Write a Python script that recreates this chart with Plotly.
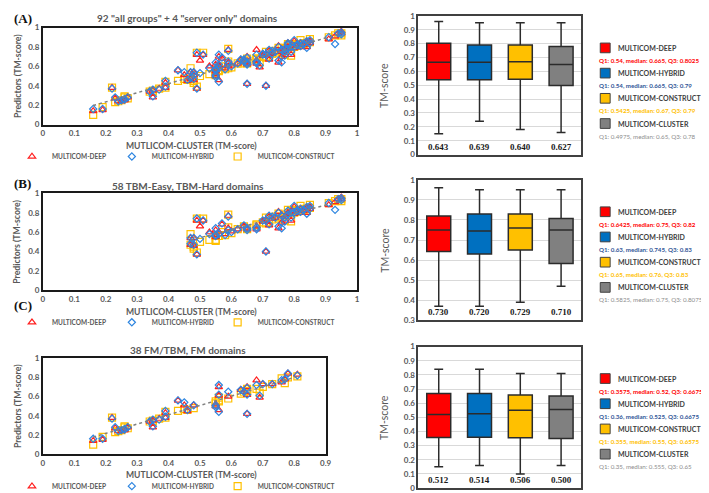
import numpy as np
import plotly.graph_objects as go

# ---------------- data ----------------
series_names = ["MULTICOM-DEEP", "MULTICOM-HYBRID", "MULTICOM-CONSTRUCT"]

# (B) 58 TBM-Easy, TBM-Hard domains : x = MULTICOM-CLUSTER TM-score
B_cluster = [0.47, 0.47, 0.48, 0.48, 0.49, 0.49, 0.50, 0.51, 0.53, 0.55, 0.55, 0.56, 0.57, 0.58,
             0.59, 0.59, 0.60, 0.62, 0.64, 0.65, 0.65, 0.68, 0.68, 0.70, 0.71, 0.71, 0.72, 0.72,
             0.74, 0.75, 0.75, 0.76, 0.77, 0.78, 0.78, 0.79, 0.79, 0.80, 0.80, 0.81, 0.82, 0.82,
             0.83, 0.84, 0.84, 0.85, 0.85, 0.91, 0.93, 0.94, 0.95, 0.95, 0.73, 0.76, 0.77, 0.81,
             0.83, 0.55]
B_deep = [0.54, 0.47, 0.54, 0.46, 0.37, 0.72, 0.66, 0.72, 0.60, 0.62, 0.57, 0.60, 0.68, 0.58,
          0.77, 0.64, 0.61, 0.63, 0.66, 0.63, 0.64, 0.63, 0.66, 0.71, 0.40, 0.73, 0.76, 0.67,
          0.75, 0.81, 0.64, 0.70, 0.72, 0.80, 0.79, 0.72, 0.81, 0.86, 0.79, 0.82, 0.84, 0.80,
          0.83, 0.80, 0.85, 0.86, 0.84, 0.88, 0.91, 0.94, 0.96, 0.94, 0.74, 0.78, 0.76, 0.83,
          0.82, 0.55]
B_hybrid = [0.54, 0.48, 0.54, 0.47, 0.37, 0.74, 0.53, 0.72, 0.58, 0.64, 0.57, 0.58, 0.69, 0.57,
            0.76, 0.62, 0.60, 0.63, 0.67, 0.62, 0.64, 0.63, 0.65, 0.72, 0.40, 0.72, 0.77, 0.68,
            0.75, 0.80, 0.66, 0.64, 0.71, 0.82, 0.78, 0.75, 0.80, 0.87, 0.80, 0.82, 0.84, 0.81,
            0.83, 0.79, 0.86, 0.87, 0.84, 0.90, 0.83, 0.94, 0.93, 0.95, 0.76, 0.77, 0.75, 0.82,
            0.83, 0.56]
B_construct = [0.58, 0.47, 0.43, 0.45, 0.39, 0.74, 0.50, 0.74, 0.52, 0.52, 0.56, 0.56, 0.60, 0.57,
               0.78, 0.65, 0.59, 0.63, 0.66, 0.64, 0.63, 0.68, 0.67, 0.70, 0.69, 0.75, 0.74, 0.70,
               0.76, 0.79, 0.74, 0.75, 0.72, 0.83, 0.80, 0.71, 0.82, 0.83, 0.80, 0.82, 0.87, 0.83,
               0.83, 0.82, 0.84, 0.88, 0.85, 0.90, 0.92, 0.94, 0.92, 0.94, 0.73, 0.76, 0.78, 0.81,
               0.84, 0.51]

# (C) 38 FM/TBM, FM domains
C_cluster = [0.16, 0.19, 0.22, 0.23, 0.24, 0.25, 0.26, 0.27, 0.34, 0.35, 0.35, 0.37, 0.39, 0.39,
             0.43, 0.45, 0.46, 0.48, 0.55, 0.55, 0.56, 0.56, 0.56, 0.59, 0.63, 0.64, 0.65, 0.65,
             0.65, 0.68, 0.69, 0.70, 0.73, 0.76, 0.77, 0.78, 0.81, 0.26]
C_deep = [0.14, 0.15, 0.38, 0.27, 0.24, 0.24, 0.26, 0.28, 0.34, 0.35, 0.28, 0.37, 0.38, 0.43,
          0.56, 0.51, 0.45, 0.51, 0.50, 0.52, 0.70, 0.46, 0.61, 0.60, 0.67, 0.65, 0.70, 0.62,
          0.42, 0.77, 0.59, 0.73, 0.73, 0.75, 0.78, 0.84, 0.83, 0.25]
C_hybrid = [0.16, 0.16, 0.37, 0.28, 0.24, 0.25, 0.26, 0.28, 0.34, 0.36, 0.29, 0.36, 0.39, 0.45,
            0.56, 0.54, 0.46, 0.51, 0.51, 0.49, 0.72, 0.44, 0.62, 0.65, 0.67, 0.65, 0.69, 0.62,
            0.42, 0.72, 0.61, 0.73, 0.73, 0.77, 0.78, 0.84, 0.82, 0.26]
C_construct = [0.10, 0.18, 0.38, 0.23, 0.24, 0.25, 0.29, 0.27, 0.34, 0.34, 0.35, 0.37, 0.38, 0.44,
               0.45, 0.47, 0.46, 0.48, 0.55, 0.53, 0.56, 0.55, 0.59, 0.58, 0.63, 0.65, 0.68, 0.64,
               0.66, 0.68, 0.64, 0.70, 0.73, 0.79, 0.74, 0.80, 0.81, 0.28]

# (A) all 96 domains = (B) + (C)
A_cluster = B_cluster + C_cluster
A_deep = B_deep + C_deep
A_hybrid = B_hybrid + C_hybrid
A_construct = B_construct + C_construct

scatter_titles = ['92 "all groups" + 4 "server only" domains',
                  '58 TBM-Easy, TBM-Hard domains',
                  '38 FM/TBM, FM domains']
panel_letters = ["(A)", "(B)", "(C)"]
x_title = "MUTLICOM-CLUSTER (TM-score)"
y_title = "Predictors (TM-score)"

# box-plot summaries (from the figure)
box_names = ["MULTICOM-DEEP", "MULTICOM-HYBRID", "MULTICOM-CONSTRUCT", "MULTICOM-CLUSTER"]
A_q1 = [0.54, 0.54, 0.5425, 0.4975]
A_med = [0.665, 0.665, 0.67, 0.65]
A_q3 = [0.8025, 0.79, 0.79, 0.78]
A_lo = [0.15, 0.24, 0.18, 0.16]
A_hi = [0.96, 0.95, 0.95, 0.95]
A_mean = [0.643, 0.639, 0.640, 0.627]

B_q1 = [0.6425, 0.63, 0.65, 0.5825]
B_med = [0.75, 0.745, 0.76, 0.75]
B_q3 = [0.82, 0.83, 0.83, 0.8075]
B_lo = [0.37, 0.37, 0.39, 0.47]
B_hi = [0.96, 0.95, 0.95, 0.95]
B_mean = [0.730, 0.720, 0.729, 0.710]

C_q1 = [0.3575, 0.36, 0.355, 0.35]
C_med = [0.52, 0.525, 0.55, 0.555]
C_q3 = [0.6675, 0.6675, 0.6575, 0.65]
C_lo = [0.15, 0.16, 0.10, 0.16]
C_hi = [0.84, 0.84, 0.81, 0.81]
C_mean = [0.512, 0.514, 0.506, 0.500]

# ---------------- style ----------------
W, H = 709, 493
FONT = "Lato"
GRAY = "#595959"
box_fill = ["#FF0000", "#0070C0", "#FFC000", "#808080"]
q_color = ["#FF0000", "#2F5597", "#FFC000", "#8C8C8C"]
sc_color = ["#FF2020", "#2F86E0", "#FFC000"]
sc_symbol = ["triangle-up-open", "diamond-open", "square-open"]
sc_size = [6.5, 5.5, 7]
legend_px = [2, 103, 210]   # left edge of each scatter-legend entry


def fx(px):
    return px / W


def fy(py):
    return 1 - py / H


fig = go.Figure()
annotations = []
shapes = []
legend_layout = {}

scatter_sets = [
    (A_cluster, [A_deep, A_hybrid, A_construct]),
    (B_cluster, [B_deep, B_hybrid, B_construct]),
    (C_cluster, [C_deep, C_hybrid, C_construct]),
]
sc_geom = [  # top, bottom (px), x max, letter y, title y
    dict(top=15, bot=115, xmax=1.0, ly=6, ty=5),
    dict(top=186, bot=286, xmax=1.0, ly=176, ty=178),
    dict(top=356, bot=455, xmax=0.9, ly=302, ty=348),
]

layout_axes = {}
for i, ((xs, ys_list), g) in enumerate(zip(scatter_sets, sc_geom)):
    ax = "" if i == 0 else str(i + 1)
    x_right = 33.3 + g["xmax"] * 317.7
    layout_axes["xaxis" + ax] = dict(
        domain=[fx(33.3), fx(x_right)], range=[0, g["xmax"]], dtick=0.1, anchor="y" + ax,
        showgrid=False, zeroline=False, showline=True, mirror=True, linecolor="#1a1a1a",
        linewidth=2, ticks="", tickfont=dict(family=FONT, size=8, color=GRAY, weight="bold"))
    layout_axes["yaxis" + ax] = dict(
        domain=[fy(g["bot"]), fy(g["top"])], range=[0, 1], dtick=0.2, anchor="x" + ax,
        showgrid=False, zeroline=False, showline=True, mirror=True, linecolor="#1a1a1a",
        linewidth=2, ticks="", tickfont=dict(family=FONT, size=8, color=GRAY, weight="bold"))

    for s in [2, 0, 1]:
        n = i * 3 + s
        lname = "legend" if n == 0 else "legend%d" % (n + 1)
        legend_layout[lname] = dict(
            orientation="h", x=fx(legend_px[s]), y=fy(g["bot"] + 33), xanchor="left",
            yanchor="middle", itemwidth=30, bgcolor="rgba(0,0,0,0)",
            font=dict(family=FONT, size=6.5, color=GRAY, weight="bold"))
        fig.add_trace(go.Scatter(
            x=xs, y=ys_list[s], mode="markers", name=series_names[s], xaxis="x" + ax,
            yaxis="y" + ax, legend=lname,
            marker=dict(symbol=sc_symbol[s], size=sc_size[s], color=sc_color[s],
                        line=dict(color=sc_color[s], width=1.2))))

    # trendline (least squares on all predictor points)
    xx = np.array(xs * 3, dtype=float)
    yy = np.concatenate([np.array(y, dtype=float) for y in ys_list])
    k, b0 = np.polyfit(xx, yy, 1)
    xl = np.array([min(xs), max(xs)])
    fig.add_trace(go.Scatter(x=xl, y=k * xl + b0, mode="lines", xaxis="x" + ax, yaxis="y" + ax,
                             line=dict(color="#7f7f7f", width=1.5, dash="dot"),
                             showlegend=False, hoverinfo="skip"))

    annotations.append(dict(x=fx(2), y=fy(g["ly"]), xref="paper", yref="paper", text="<b>%s</b>" % panel_letters[i],
                            showarrow=False, xanchor="left", yanchor="middle",
                            font=dict(family="Liberation Serif", size=13, color="#111")))
    annotations.append(dict(x=fx(180), y=fy(g["ty"]), xref="paper", yref="paper", text="<b>%s</b>" % scatter_titles[i],
                            showarrow=False, xanchor="center", yanchor="middle",
                            font=dict(family=FONT, size=10, color=GRAY)))
    annotations.append(dict(x=fx(7), y=fy((g["top"] + g["bot"]) / 2), xref="paper", yref="paper",
                            text="<b>%s</b>" % y_title, textangle=-90, showarrow=False,
                            xanchor="center", yanchor="middle", font=dict(family=FONT, size=8.7, color=GRAY)))
    annotations.append(dict(x=fx(184), y=fy(g["bot"] + 22), xref="paper", yref="paper",
                            text="<b>%s</b>" % x_title, showarrow=False,
                            xanchor="center", yanchor="middle", font=dict(family=FONT, size=8.6, color=GRAY)))

# ---------------- box plots ----------------
box_sets = [
    (A_q1, A_med, A_q3, A_lo, A_hi, A_mean, 0.0),
    (B_q1, B_med, B_q3, B_lo, B_hi, B_mean, 0.3),
    (C_q1, C_med, C_q3, C_lo, C_hi, C_mean, 0.0),
]
box_geom = [dict(top=3, bot=146), dict(top=172, bot=317), dict(top=344, bot=490)]

for j, ((q1, med, q3, lo, hi, mean, ymin), g) in enumerate(zip(box_sets, box_geom)):
    ax = str(j + 4)
    layout_axes["xaxis" + ax] = dict(
        domain=[fx(413), fx(578)], type="category", categoryorder="array", categoryarray=box_names,
        range=[-0.5, 3.5], anchor="y" + ax, showticklabels=False, ticks="", showgrid=False,
        zeroline=False, showline=True, mirror=True, linecolor="#404040", linewidth=1.5)
    layout_axes["yaxis" + ax] = dict(
        domain=[fy(g["bot"]), fy(g["top"])], range=[ymin, 1], dtick=0.1, tick0=0, anchor="x" + ax,
        showgrid=True, gridcolor="#D9D9D9", gridwidth=1, zeroline=False, showline=True, mirror=True,
        linecolor="#404040", linewidth=1.5, ticks="",
        tickfont=dict(family=FONT, size=8, color=GRAY, weight="bold"))
    for k in range(4):
        fig.add_trace(go.Box(
            x=[box_names[k]], q1=[q1[k]], median=[med[k]], q3=[q3[k]], lowerfence=[lo[k]],
            upperfence=[hi[k]], name=box_names[k], xaxis="x" + ax, yaxis="y" + ax,
            fillcolor=box_fill[k], line=dict(color="#2b2b2b", width=1.5), whiskerwidth=0.37,
            showlegend=False, hoverinfo="skip"))
        annotations.append(dict(x=box_names[k], y=ymin, xref="x" + ax, yref="y" + ax,
                                text="<b>%.3f</b>" % mean[k], showarrow=False, xanchor="center",
                                yanchor="bottom", yshift=1,
                                font=dict(family="Liberation Serif", size=9, color="#1a1a1a")))
        # legend swatch + label + quartile text
        sy = g["top"] + 33 + 26 * k
        shapes.append(dict(type="rect", xref="paper", yref="paper", x0=fx(597), x1=fx(607),
                           y0=fy(sy + 5), y1=fy(sy - 5), fillcolor=box_fill[k],
                           line=dict(color="#404040", width=1)))
        annotations.append(dict(x=fx(613), y=fy(sy), xref="paper", yref="paper",
                                text="<b>%s</b>" % box_names[k], showarrow=False, xanchor="left",
                                yanchor="middle", font=dict(family=FONT, size=7, color="#404040")))
        qtxt = "Q1: %s, median: %s, Q3: %s" % (q1[k], med[k], q3[k])
        if k < 3:
            qtxt = "<b>%s</b>" % qtxt
        annotations.append(dict(x=fx(594), y=fy(sy + 13), xref="paper", yref="paper",
                                text=qtxt, showarrow=False, xanchor="left",
                                yanchor="middle", font=dict(family=FONT, size=6.2, color=q_color[k])))
    annotations.append(dict(x=fx(379), y=fy((g["top"] + g["bot"]) / 2), xref="paper", yref="paper",
                            text="TM-score", textangle=-90, showarrow=False, xanchor="center",
                            yanchor="middle", font=dict(family=FONT, size=10.5, color=GRAY)))

fig.update_layout(
    width=W, height=H, autosize=False, margin=dict(l=0, r=0, t=0, b=0),
    paper_bgcolor="white", plot_bgcolor="white",
    boxmode="overlay", boxgap=0.16,
    annotations=annotations, shapes=shapes,
    font=dict(family=FONT, color=GRAY),
    **layout_axes, **legend_layout)

fig.write_html("out.html")
